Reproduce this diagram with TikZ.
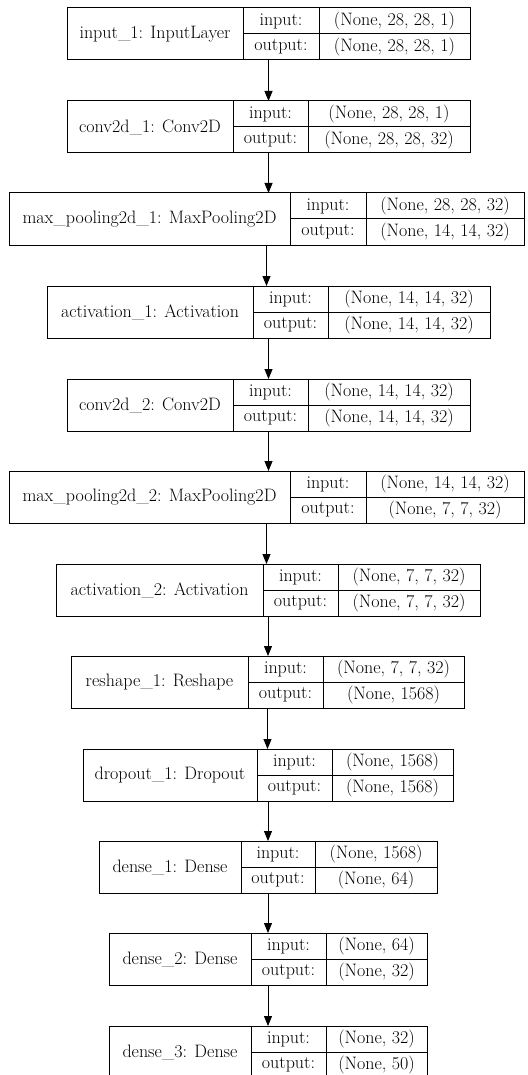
\documentclass[tikz,border=0pt]{standalone}
\usepackage{fontspec}
\usepackage{tikz}
\usetikzlibrary{arrows.meta}

% one record box: name, top, left, split1, split2, right, title, input, output
\newcommand{\layerbox}[9]{%
  \node[layer,minimum width={#6-#3},anchor=north west] (#1) at (#3,#2) {};
  \draw[cell] (#4,#2) -- ++(0,52) (#5,#2) -- ++(0,52) (#4,#2+26) -- (#6,#2+26);
  \node[txt] at ({(#3+#4)/2},#2+26) {#7};
  \node[txt] at ({(#4+#5)/2},#2+13) {input:};
  \node[txt] at ({(#4+#5)/2},#2+39) {output:};
  \node[txt] at ({(#5+#6)/2},#2+13) {#8};
  \node[txt] at ({(#5+#6)/2},#2+39) {#9};
}

\begin{document}
\begin{tikzpicture}[x=1pt,y=-1pt,
layer/.style={draw,line width=1pt,minimum height=52pt,inner sep=0pt,outer sep=0pt},
cell/.style={line width=1pt},
txt/.style={font=\fontsize{18}{20}\selectfont,inner sep=0pt},
flow/.style={-{Triangle[length=10pt,width=8pt]},line width=0.9pt}]
\useasboundingbox (0,0) rectangle (527,1075);
\layerbox{l1}{8}{67}{243}{319}{470}{input\_1: InputLayer}{(None, 28, 28, 1)}{(None, 28, 28, 1)}
\layerbox{l2}{101}{67}{233}{308}{470}{conv2d\_1: Conv2D}{(None, 28, 28, 1)}{(None, 28, 28, 32)}
\layerbox{l3}{193}{9}{290}{366}{524}{max\_pooling2d\_1: MaxPooling2D}{(None, 28, 28, 32)}{(None, 14, 14, 32)}
\layerbox{l4}{286}{47}{253}{328}{490}{activation\_1: Activation}{(None, 14, 14, 32)}{(None, 14, 14, 32)}
\layerbox{l5}{379}{67}{233}{308}{470}{conv2d\_2: Conv2D}{(None, 14, 14, 32)}{(None, 14, 14, 32)}
\layerbox{l6}{471}{9}{290}{366}{524}{max\_pooling2d\_2: MaxPooling2D}{(None, 14, 14, 32)}{(None, 7, 7, 32)}
\layerbox{l7}{564}{56}{263}{338}{480}{activation\_2: Activation}{(None, 7, 7, 32)}{(None, 7, 7, 32)}
\layerbox{l8}{656}{71}{248}{323}{464}{reshape\_1: Reshape}{(None, 7, 7, 32)}{(None, 1568)}
\layerbox{l9}{749}{83}{257}{332}{453}{dropout\_1: Dropout}{(None, 1568)}{(None, 1568)}
\layerbox{l10}{841}{99}{241}{315}{437}{dense\_1: Dense}{(None, 1568)}{(None, 64)}
\layerbox{l11}{933}{109}{251}{326}{427}{dense\_2: Dense}{(None, 64)}{(None, 32)}
\layerbox{l12}{1026}{109}{251}{326}{427}{dense\_3: Dense}{(None, 32)}{(None, 50)}
\foreach \a/\b in {l1/l2,l2/l3,l3/l4,l4/l5,l5/l6,l6/l7,l7/l8,l8/l9,l9/l10,l10/l11,l11/l12}
  \draw[flow] (\a.south) -- (\a.south |- \b.north);
\end{tikzpicture}
\end{document}
